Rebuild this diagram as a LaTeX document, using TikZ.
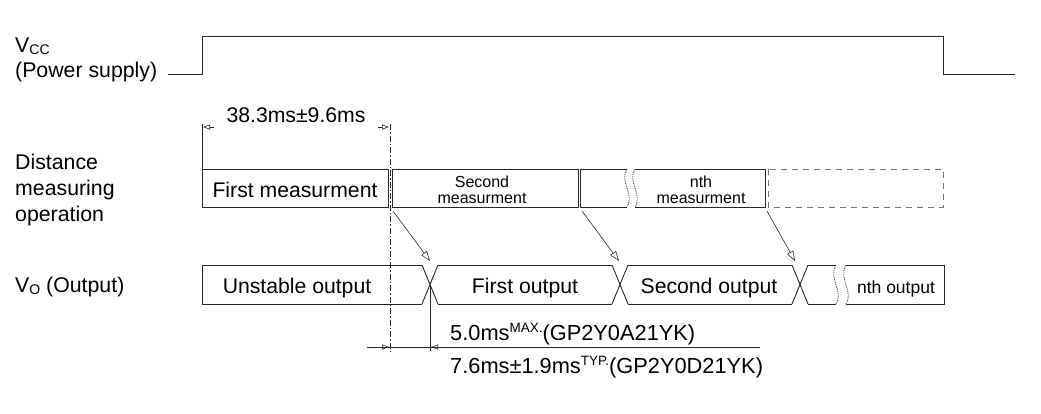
\documentclass[tikz,border=0pt]{standalone}
\usepackage{fontspec}
\setmainfont{Liberation Sans}
\usetikzlibrary{arrows.meta}
\newcommand{\supr}[1]{\raisebox{8pt}{\fontsize{13.5}{13.5}\selectfont #1}}
\newcommand{\subr}[1]{\raisebox{-2pt}{\fontsize{14}{14}\selectfont #1}}
\begin{document}
\begin{tikzpicture}[x=1pt,y=-1pt,
  ln/.style={line width=0.9pt, draw=black!85, line join=miter},
  lbl/.style={font=\fontsize{21.3}{24}\selectfont, inner sep=0pt, anchor=base west},
  big/.style={font=\fontsize{21.2}{24}\selectfont, inner sep=0pt, anchor=base},
  small/.style={font=\fontsize{16}{18}\selectfont, inner sep=0pt, anchor=base},
  arr/.style={line width=0.6pt, draw=black!85, -{Triangle[open,length=10pt,width=7pt]}},
  dimarr/.style={line width=0.6pt, draw=black!85, -{Triangle[open,length=7pt,width=5pt]}},
  dashdot/.style={line width=0.7pt, draw=black!85, dash pattern=on 6pt off 2pt on 1.5pt off 2pt},
  wave/.style={line width=0.8pt, draw=black!85, densely dotted}]
\useasboundingbox (0,0) rectangle (1041,413);

% ---------- left labels ----------
\node[lbl] (vcc) at (15,52) {V\subr{CC}};
\node[lbl] (ps) at (15,77) {(Power supply)};
\node[lbl] (d1) at (15,169) {Distance};
\node[lbl] (d2) at (15,195) {measuring};
\node[lbl] (d3) at (15,221) {operation};
\node[lbl] (vo) at (15,292) {V\subr{O} (Output)};

% ---------- Vcc waveform ----------
\coordinate (v0) at (168,74);
\coordinate (v1) at (202,74);
\coordinate (v2) at (202,36);
\coordinate (v3) at (943,36);
\coordinate (v4) at (943,74);
\coordinate (v5) at (1015,74);
\draw[ln] (v0) -- (v1) -- (v2) -- (v3) -- (v4) -- (v5);

% ---------- 38.3ms dimension ----------
\node[big] (t38) at (296,122) {38.3ms±9.6ms};
\coordinate (dA) at (202,124);
\coordinate (dAb) at (202,170);
\draw[ln, line width=0.7pt] (dA) -- (dAb);
\coordinate (dB) at (390,124);
\coordinate (dBb) at (390,352);
\draw[dashdot] (dB) -- (dBb);
\coordinate (aL0) at (214,127);
\coordinate (aL1) at (203,127);
\draw[dimarr] (aL0) -- (aL1);
\coordinate (aR0) at (378,127);
\coordinate (aR1) at (389,127);
\draw[dimarr] (aR0) -- (aR1);

% ---------- Distance measuring operation row ----------
\draw[ln] (202,169) rectangle (388,207);
\node[big] (fm) at (295,197) {First measurment};
\draw[ln] (392,169) rectangle (578,207);
\node[small] (sm1) at (482,187) {Second};
\node[small] (sm2) at (482,203) {measurment};
% gap box with wavy break
\draw[ln] (627,169) -- (580,169) -- (580,207) -- (627,207);
\draw[wave] (627,169) .. controls (619,183) and (635,193) .. (627,207);
\draw[wave] (635,169) .. controls (627,183) and (643,193) .. (635,207);
\draw[ln] (635,169) -- (765,169) -- (765,207) -- (635,207);
\node[small] (nm1) at (701,187) {nth};
\node[small] (nm2) at (701,203) {measurment};
\draw[line width=0.7pt, draw=black!55, dashed, dash pattern=on 6pt off 5pt] (768,169) rectangle (943,207);

% ---------- arrows between rows ----------
\coordinate (p1s) at (393,211);
\coordinate (p1e) at (430,261);
\coordinate (p2s) at (582,211);
\coordinate (p2e) at (619,261);
\coordinate (p3s) at (767,211);
\coordinate (p3e) at (795,261);
\draw[arr] (p1s) -- (p1e);
\draw[arr] (p2s) -- (p2e);
\draw[arr] (p3s) -- (p3e);

% ---------- Output row ----------
\draw[ln] (422,265) -- (202,265) -- (202,304) -- (422,304);
\draw[ln] (422,265) -- (438,304);
\draw[ln] (422,304) -- (438,265);
\draw[ln] (438,265) -- (612,265);
\draw[ln] (438,304) -- (612,304);
\draw[ln] (612,265) -- (628,304);
\draw[ln] (612,304) -- (628,265);
\draw[ln] (628,265) -- (792,265);
\draw[ln] (628,304) -- (792,304);
\draw[ln] (792,265) -- (808,304);
\draw[ln] (792,304) -- (808,265);
\draw[ln] (808,265) -- (836,265);
\draw[ln] (808,304) -- (836,304);
\draw[wave] (836,265) .. controls (828,279) and (844,291) .. (836,304);
\draw[wave] (846,265) .. controls (838,279) and (854,291) .. (846,304);
\draw[ln] (846,265) -- (944,265) -- (944,304) -- (846,304);

\node[big] (uo) at (297,293) {Unstable output};
\node[big] (fo) at (525,293) {First output};
\node[big] (so) at (709,293) {Second output};
\node[font=\fontsize{17.5}{20}\selectfont, inner sep=0pt, anchor=base] (no) at (896,293) {nth output};

% ---------- output timing dimension ----------
\coordinate (x1) at (430,285);
\coordinate (x1b) at (430,351);
\draw[ln, line width=0.7pt] (x1) -- (x1b);
\coordinate (h0) at (367,347);
\coordinate (h1) at (760,347);
\draw[ln, line width=0.7pt] (h0) -- (h1);
\coordinate (b0) at (378,347);
\coordinate (b1) at (389,347);
\draw[dimarr] (b0) -- (b1);
\coordinate (c0) at (442,347);
\coordinate (c1) at (431,347);
\draw[dimarr] (c0) -- (c1);

\node[lbl, font=\fontsize{21.8}{24}\selectfont] (r1) at (450,340) {5.0ms\supr{MAX.}(GP2Y0A21YK)};
\node[lbl, font=\fontsize{21.8}{24}\selectfont] (r2) at (450,373) {7.6ms±1.9ms\supr{TYP.}(GP2Y0D21YK)};
\end{tikzpicture}
\end{document}
